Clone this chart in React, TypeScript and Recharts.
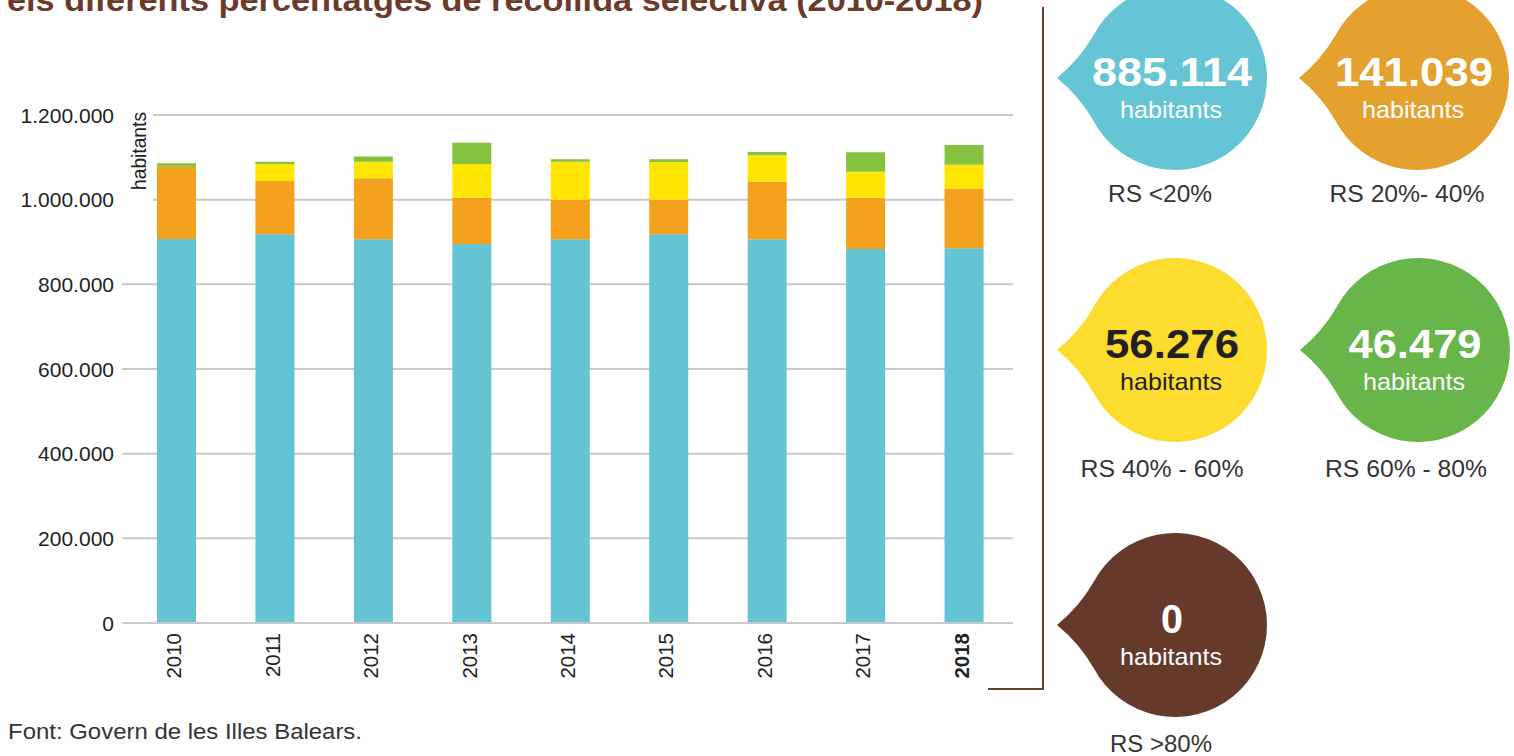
import React from 'react';
import { BarChart, Bar, XAxis, YAxis, CartesianGrid } from 'recharts';

const years = ['2010', '2011', '2012', '2013', '2014', '2015', '2016', '2017', '2018'];
const rsUnder20 = [907000, 918100, 906300, 895200, 906300, 918100, 906300, 883400, 885114];
const rs20to40 = [170800, 126000, 144000, 109400, 93600, 81800, 136100, 121200, 141039];
const rs40to60 = [0, 40000, 39000, 79600, 89700, 89000, 62300, 61400, 56276];
const rs60to80 = [8000, 5400, 12700, 50300, 5700, 6400, 7800, 45800, 46479];
const rsOver80 = [0, 0, 0, 0, 0, 0, 0, 0, 0];
const yTicks = [0, 200000, 400000, 600000, 800000, 1000000, 1200000];

const seriesLabels = ['RS <20%', 'RS 20%- 40%', 'RS 40% - 60%', 'RS 60% - 80%', 'RS >80%'];
const titleText = 'els diferents percentatges de recollida selectiva (2010-2018)';
const sourceText = 'Font: Govern de les Illes Balears.';
const unitText = 'habitants';

const data = years.map((y, i) => ({
  year: y,
  a: rsUnder20[i],
  b: rs20to40[i],
  c: rs40to60[i],
  d: rs60to80[i],
  e: rsOver80[i],
}));

const fmt = (v: number) => String(Math.round(v)).replace(/\B(?=(\d{3})+(?!\d))/g, '.');

const FONT = "'Liberation Sans', Arial, sans-serif";

const barColors = ['#65c4d4', '#f4a11d', '#fee600', '#85c241'];

const last = years.length - 1;
const bubbleValues = [rsUnder20[last], rs20to40[last], rs40to60[last], rs60to80[last], rsOver80[last]];

const bubbles = [
  { cx: 1175, cy: 78, color: '#66c5d5', text: '#ffffff', numW: 160, labW: 104, labX: 1160, labY: 202 },
  { cx: 1417, cy: 78, color: '#e4a130', text: '#ffffff', numW: 158, labW: 155, labX: 1407, labY: 202 },
  { cx: 1175, cy: 350, color: '#fddc30', text: '#231f20', numW: 134, labW: 163, labX: 1162, labY: 477 },
  { cx: 1418, cy: 350, color: '#68b54a', text: '#ffffff', numW: 133, labW: 162, labX: 1406, labY: 477 },
  { cx: 1175, cy: 625, color: '#653a2b', text: '#ffffff', numW: 22, labW: 102, labX: 1161, labY: 752 },
];

function bubblePath(cx: number, cy: number, r: number) {
  const a = (152 * Math.PI) / 180;
  const ux = cx + r * Math.cos(a);
  const dy = r * Math.sin(a);
  const tipX = cx - 118;
  const mx = (ux + tipX) / 2;
  return `M ${ux} ${cy - dy} A ${r} ${r} 0 1 1 ${ux} ${cy + dy} Q ${mx + 4} ${cy + dy * 0.42} ${tipX} ${cy} Q ${mx + 4} ${cy - dy * 0.42} ${ux} ${cy - dy} Z`;
}

const XTick = (props: any) => {
  const { x, y, payload } = props;
  const isLast = payload.value === years[last];
  return (
    <g>
      <text
        transform={`translate(${x + 5}, ${y + 2}) rotate(-90)`}
        textAnchor="end"
        fontSize={20.5}
        fill="#222"
        fontWeight={isLast ? 'bold' : 'normal'}
        fontFamily={FONT}
      >
        {payload.value}
      </text>
    </g>
  );
};

const YTick = (props: any) => {
  const { x, y, payload } = props;
  return (
    <text x={x} y={y} dy="0.36em" textAnchor="end" fontSize={21} fill="#222" fontFamily={FONT}>
      {fmt(payload.value)}
    </text>
  );
};

export default function App() {
  return (
    <div
      style={{
        position: 'absolute',
        left: 0,
        top: 0,
        width: 1514,
        height: 756,
        background: '#ffffff',
        overflow: 'hidden',
        fontFamily: FONT,
      }}
    >
      <div style={{ position: 'absolute', left: 0, top: 0 }}>
        <BarChart
          width={1030}
          height={700}
          data={data}
          margin={{ top: 115, right: 17, bottom: 0, left: 0 }}
          barSize={39}
        >
          <CartesianGrid vertical={false} stroke="#c8c8c8" strokeWidth={2} />
          <XAxis
            dataKey="year"
            height={77}
            padding={{ left: 5, right: 0 }}
            axisLine={{ stroke: '#c8c8c8', strokeWidth: 2 }}
            tickLine={false}
            interval={0}
            tick={<XTick />}
          />
          <YAxis
            width={122}
            domain={[0, 1200000]}
            ticks={yTicks}
            axisLine={false}
            tickLine={false}
            tick={<YTick />}
          />
          <Bar dataKey="a" stackId="s" fill={barColors[0]} isAnimationActive={false} />
          <Bar dataKey="b" stackId="s" fill={barColors[1]} isAnimationActive={false} />
          <Bar dataKey="c" stackId="s" fill={barColors[2]} isAnimationActive={false} />
          <Bar dataKey="d" stackId="s" fill={barColors[3]} isAnimationActive={false} />
        </BarChart>
      </div>
      <svg
        width={1514}
        height={756}
        style={{ position: 'absolute', left: 0, top: 0, pointerEvents: 'none' }}
      >
        <text x={7} y={11} fontSize={31} fontWeight="bold" fill="#6b3a2a" textLength={976} lengthAdjust="spacingAndGlyphs">
          {titleText}
        </text>
        <rect x={120} y={106} width={33} height={100} fill="#ffffff" />
        <text
          transform="translate(146, 151) rotate(-90)"
          textAnchor="middle"
          fontSize={20}
          fill="#222"
          textLength={78}
          lengthAdjust="spacingAndGlyphs"
        >
          {unitText}
        </text>
        <line x1={1043} y1={7} x2={1043} y2={689} stroke="#6b3f2e" strokeWidth={2} />
        <line x1={988} y1={689} x2={1044} y2={689} stroke="#6b3f2e" strokeWidth={2} />
        {bubbles.map((b, i) => (
          <g key={i}>
            <path d={bubblePath(b.cx, b.cy, 92)} fill={b.color} />
            <text
              x={b.cx - 3}
              y={b.cy + 8}
              textAnchor="middle"
              fontSize={40}
              fontWeight="bold"
              fill={b.text}
              textLength={b.numW}
              lengthAdjust="spacingAndGlyphs"
            >
              {fmt(bubbleValues[i])}
            </text>
            <text
              x={b.cx - 4}
              y={b.cy + 40}
              textAnchor="middle"
              fontSize={24}
              fill={b.text}
              textLength={102}
              lengthAdjust="spacingAndGlyphs"
            >
              {unitText}
            </text>
            <text
              x={b.labX}
              y={b.labY}
              textAnchor="middle"
              fontSize={23}
              fill="#333"
              textLength={b.labW}
              lengthAdjust="spacingAndGlyphs"
            >
              {seriesLabels[i]}
            </text>
          </g>
        ))}
        <text x={8} y={739} fontSize={22} fill="#333" textLength={354} lengthAdjust="spacingAndGlyphs">
          {sourceText}
        </text>
      </svg>
    </div>
  );
}
